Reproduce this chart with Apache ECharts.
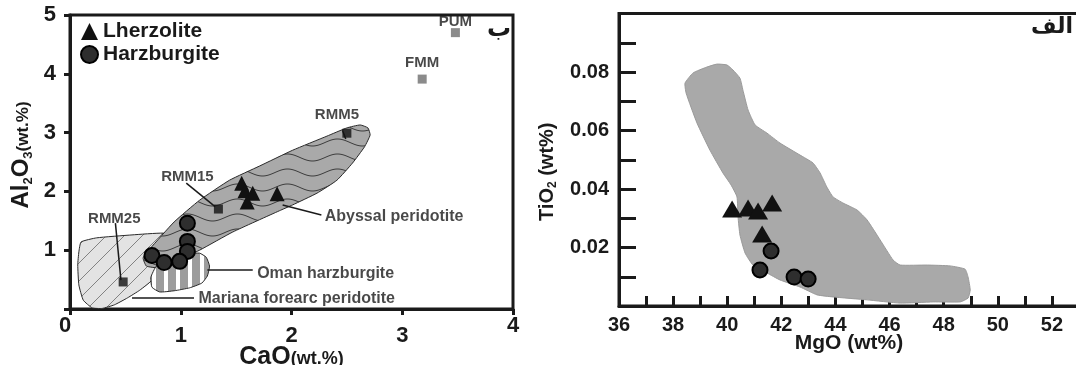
<!DOCTYPE html>
<html lang="en">
<head>
<meta charset="UTF-8">
<title>Peridotite diagrams</title>
<style>
 html, body { margin: 0; padding: 0; background: #fff; }
 #main { width: 1076px; height: 365px; }
</style>
</head>
<body>
<div id="main"></div>
<script src="https://cdn.jsdelivr.net/npm/echarts@6/dist/echarts.min.js"></script>
<script>
// ---------- left panel: CaO vs Al2O3 (wt.%) ----------
var caoTicks = [0, 1, 2, 3, 4];
var al2o3Ticks = [1, 2, 3, 4, 5];

var lherzCaAl = [[1.55, 2.14], [1.58, 2.01], [1.65, 1.97], [1.60, 1.82], [1.87, 1.96]];
var harzCaAl = [[1.06, 1.46], [1.06, 1.15], [1.06, 0.98], [0.74, 0.91], [0.85, 0.79], [0.99, 0.81]];

var refNames = ['PUM', 'FMM', 'RMM5', 'RMM15', 'RMM25'];
var refPoints = [[3.48, 4.70], [3.18, 3.91], [2.50, 2.99], [1.34, 1.70], [0.48, 0.46]];
var refColors = ['#6e6e6e', '#6e6e6e', '#111', '#111', '#111'];

var abyssalField = [[0.69, 0.73], [0.66, 0.87], [0.72, 1.02], [0.94, 1.48], [1.17, 1.85], [1.44, 2.19],
  [1.71, 2.43], [2.01, 2.70], [2.32, 2.94], [2.50, 3.08], [2.62, 3.13], [2.69, 3.08], [2.71, 2.96],
  [2.66, 2.76], [2.55, 2.48], [2.41, 2.19], [2.23, 1.97], [2.01, 1.77], [1.89, 1.67], [1.47, 1.31],
  [1.17, 1.00], [0.94, 0.80], [0.81, 0.70]];
var marianaField = [[0.10, 1.14], [0.24, 1.21], [0.56, 1.26], [0.84, 1.29], [0.94, 1.22], [0.99, 1.09],
  [0.81, 0.75], [0.74, 0.49], [0.63, 0.32], [0.52, 0.19], [0.40, 0.07], [0.29, 0.01], [0.20, 0.02],
  [0.12, 0.15], [0.08, 0.41], [0.07, 0.75], [0.08, 0.97]];
var omanField = [[0.78, 0.73], [0.90, 0.83], [1.08, 0.94], [1.17, 0.95], [1.23, 0.88], [1.26, 0.73],
  [1.24, 0.56], [1.19, 0.44], [1.08, 0.36], [0.94, 0.31], [0.81, 0.29], [0.74, 0.37], [0.73, 0.54]];

var annotText = ['PUM', 'FMM', 'RMM5', 'RMM15', 'RMM25', 'Abyssal peridotite', 'Oman harzburgite', 'Mariana forearc peridotite'];
var annotPos = [[3.48, 4.88], [3.18, 4.18], [2.41, 3.30], [1.06, 2.25], [0.40, 1.54], [2.30, 1.57], [1.69, 0.61], [1.16, 0.17]];
var annotAlign = ['center', 'center', 'center', 'center', 'center', 'left', 'left', 'left'];
var leaderLines = [
  [[2.46, 3.04], [2.49, 2.89]],
  [[1.05, 2.14], [1.31, 1.74]],
  [[0.41, 1.46], [0.46, 0.49]],
  [[1.92, 1.77], [2.27, 1.60]],
  [[1.24, 0.66], [1.65, 0.66]],
  [[0.56, 0.19], [1.12, 0.19]]
];

// ---------- right panel: MgO vs TiO2 (wt%) ----------
var mgoTicks = [36, 38, 40, 42, 44, 46, 48, 50, 52];
var tio2Ticks = [0.02, 0.04, 0.06, 0.08];

var lherzMgTi = [[40.18, 0.0332], [40.77, 0.0335], [41.14, 0.0325], [41.66, 0.0352], [41.29, 0.0246]];
var harzMgTi = [[41.62, 0.0188], [41.21, 0.0123], [42.47, 0.0099], [42.99, 0.0092]];

var mgTiField = [[38.44, 0.0762], [38.74, 0.0797], [39.25, 0.0817], [39.62, 0.0827], [39.99, 0.0824],
  [40.21, 0.0807], [40.47, 0.0779], [40.58, 0.0738], [40.77, 0.0670], [41.03, 0.0619], [41.47, 0.0591],
  [41.95, 0.0557], [42.69, 0.0516], [43.17, 0.0489], [43.43, 0.0455], [43.68, 0.0407], [43.91, 0.0373],
  [44.28, 0.0352], [44.80, 0.0328], [45.17, 0.0294], [45.65, 0.0226], [46.13, 0.0157], [46.39, 0.0140],
  [47.39, 0.0140], [48.24, 0.0137], [48.79, 0.0126], [48.90, 0.0099], [48.98, 0.0055], [48.90, 0.0027],
  [48.61, 0.0014], [47.61, 0.0014], [46.39, 0.0010], [45.17, 0.0021], [43.91, 0.0031], [43.32, 0.0038],
  [42.69, 0.0065], [41.95, 0.0089], [41.47, 0.0113], [40.95, 0.0140], [40.66, 0.0181], [40.47, 0.0243],
  [40.40, 0.0304], [40.36, 0.0373], [40.14, 0.0414], [39.84, 0.0455], [39.36, 0.0533], [38.88, 0.0626],
  [38.48, 0.0728]];

var FONT = 'Liberation Sans, Arial, sans-serif';
var INK = '#1a1a1a';

// fill patterns for the fields
function makePattern(w, h, draw) {
  var c = document.createElement('canvas');
  c.width = w; c.height = h;
  draw(c.getContext('2d'), w, h);
  return { image: c, repeat: 'repeat' };
}
var wavyFill = makePattern(50, 15, function (ctx, w, h) {
  ctx.fillStyle = '#a9a9a9'; ctx.fillRect(0, 0, w, h);
  ctx.strokeStyle = '#3c3c3c'; ctx.lineWidth = 1;
  ctx.beginPath();
  for (var i = 0; i <= w; i++) {
    var y = 7.5 + 3.5 * Math.sin(i / w * 2 * Math.PI);
    if (i === 0) ctx.moveTo(i, y); else ctx.lineTo(i, y);
  }
  ctx.stroke();
});
var hatchFill = makePattern(18, 18, function (ctx, w, h) {
  ctx.fillStyle = '#e3e3e3'; ctx.fillRect(0, 0, w, h);
  ctx.strokeStyle = '#6a6a6a'; ctx.lineWidth = 0.8;
  ctx.beginPath();
  ctx.moveTo(-1, h + 1); ctx.lineTo(w + 1, -1);
  ctx.moveTo(-1, 1); ctx.lineTo(1, -1);
  ctx.moveTo(w - 1, h + 1); ctx.lineTo(w + 1, h - 1);
  ctx.stroke();
});
var stripeFill = makePattern(12, 4, function (ctx, w, h) {
  ctx.fillStyle = '#ffffff'; ctx.fillRect(0, 0, w, h);
  ctx.fillStyle = '#9c9c9c'; ctx.fillRect(0, 0, 8, h);
});

function fieldSeries(pts, idx, fill, stroke, z) {
  return {
    type: 'custom', xAxisIndex: idx, yAxisIndex: idx, silent: true, z: z,
    data: pts,
    renderItem: function (params, api) {
      if (params.dataIndex !== 0) return null;
      return {
        type: 'polygon',
        shape: { points: pts.map(function (p) { return api.coord(p); }), smooth: 0.15 },
        style: { fill: fill, stroke: stroke, lineWidth: stroke ? 1 : 0 }
      };
    }
  };
}

var chart = echarts.init(document.getElementById('main'));

chart.setOption({
  animation: false,
  backgroundColor: '#fff',
  textStyle: { fontFamily: FONT },
  legend: {
    data: ['Lherzolite', 'Harzburgite'],
    orient: 'vertical', left: 75, top: 16,
    itemWidth: 17, itemHeight: 17, itemGap: 2,
    textStyle: { fontSize: 21, fontWeight: 'bold', color: INK, fontFamily: FONT }
  },
  graphic: [
    { type: 'text', left: 487, top: 18, style: { text: 'ب', fontSize: 24, fontWeight: 'bold', fill: INK, fontFamily: 'DejaVu Sans' } },
    { type: 'text', right: 3, top: 16, style: { text: 'الف', fontSize: 22, fontWeight: 'bold', fill: INK, fontFamily: 'DejaVu Sans' } }
  ],
  grid: [
    { left: 70, right: 563, top: 15, bottom: 56, show: true, borderWidth: 3, borderColor: INK, outerBoundsMode: 'none' },
    { left: 619, right: -3, top: 13.5, bottom: 59, show: true, borderWidth: 3, borderColor: INK, outerBoundsMode: 'none' }
  ],
  xAxis: [
    {
      gridIndex: 0, type: 'value', min: 0, max: 4, interval: 1,
      name: '{b|CaO}{m|(wt.%)}', nameLocation: 'middle', nameGap: 36, nameMoveOverlap: false,
      nameTextStyle: { rich: {
        b: { fontSize: 25, fontWeight: 'bold', color: INK, fontFamily: FONT, verticalAlign: 'bottom' },
        m: { fontSize: 18, fontWeight: 'bold', color: INK, fontFamily: FONT, verticalAlign: 'bottom', padding: [0, 0, 2, 0] }
      } },
      axisLine: { lineStyle: { color: INK, width: 3 } },
      axisTick: { inside: false, length: 6, lineStyle: { color: INK, width: 3 } },
      splitLine: { show: false },
      axisLabel: {
        margin: 6,
        formatter: function (v) {
          if (caoTicks.indexOf(v) < 0) return '';
          if (v === 0) return '{z|0}';
          if (v === 4) return '{e|4}';
          return '{m|' + v + '}';
        },
        rich: {
          z: { fontSize: 22, fontWeight: 'bold', color: INK, fontFamily: FONT, padding: [0, 10, 0, 0] },
          e: { fontSize: 22, fontWeight: 'bold', color: INK, fontFamily: FONT },
          m: { fontSize: 22, fontWeight: 'bold', color: INK, fontFamily: FONT, padding: [10, 0, 0, 0] }
        }
      }
    },
    {
      gridIndex: 1, type: 'value', min: 36, max: 53, interval: 1,
      name: 'MgO (wt%)', nameLocation: 'middle', nameGap: 27, nameMoveOverlap: false,
      nameTextStyle: { fontSize: 21, fontWeight: 'bold', color: INK, fontFamily: FONT },
      axisLine: { lineStyle: { color: INK, width: 3 } },
      axisTick: { inside: true, length: 10, lineStyle: { color: INK, width: 3 } },
      splitLine: { show: false },
      axisLabel: {
        margin: 9, fontSize: 20, fontWeight: 'bold', color: INK, fontFamily: FONT,
        showMaxLabel: false,
        formatter: function (v) { return mgoTicks.indexOf(v) >= 0 ? String(v) : ''; }
      }
    }
  ],
  yAxis: [
    {
      gridIndex: 0, type: 'value', min: 0, max: 5, interval: 1,
      name: '{b|Al}{s|2}{b|O}{s|3}{m|(wt.%)}', nameLocation: 'middle', nameGap: 35, nameMoveOverlap: false,
      nameTextStyle: { padding: [0, 0, 0, 14], rich: {
        b: { fontSize: 24, fontWeight: 'bold', color: INK, fontFamily: FONT, verticalAlign: 'top' },
        s: { fontSize: 13, fontWeight: 'bold', color: INK, fontFamily: FONT, verticalAlign: 'top', padding: [13, 0, 0, 0] },
        m: { fontSize: 17, fontWeight: 'bold', color: INK, fontFamily: FONT, verticalAlign: 'top', padding: [6, 0, 0, 0] }
      } },
      axisLine: { lineStyle: { color: INK, width: 3 } },
      axisTick: { inside: false, length: 6, lineStyle: { color: INK, width: 3 } },
      splitLine: { show: false },
      axisLabel: {
        margin: 14, fontSize: 22, fontWeight: 'bold', color: INK, fontFamily: FONT,
        formatter: function (v) { return al2o3Ticks.indexOf(v) >= 0 ? String(v) : ''; }
      }
    },
    {
      gridIndex: 1, type: 'value', min: 0, max: 0.1, interval: 0.01,
      name: '{b|TiO}{s|2}{b| (wt%)}', nameLocation: 'middle', nameGap: 60, nameMoveOverlap: false,
      nameTextStyle: { padding: [0, 24, 0, 0], rich: {
        b: { fontSize: 20, fontWeight: 'bold', color: INK, fontFamily: FONT, verticalAlign: 'top' },
        s: { fontSize: 12, fontWeight: 'bold', color: INK, fontFamily: FONT, verticalAlign: 'top', padding: [10, 0, 0, 0] }
      } },
      axisLine: { lineStyle: { color: INK, width: 3 } },
      axisTick: { inside: true, length: 17, lineStyle: { color: INK, width: 3 } },
      splitLine: { show: false },
      axisLabel: {
        margin: 10, fontSize: 20, fontWeight: 'bold', color: INK, fontFamily: FONT,
        formatter: function (v) {
          var r = Math.round(v * 100) / 100;
          return tio2Ticks.indexOf(r) >= 0 ? r.toFixed(2) : '';
        }
      }
    }
  ],
  series: [
    fieldSeries(marianaField, 0, hatchFill, '#2a2a2a', 1),
    fieldSeries(abyssalField, 0, wavyFill, '#2a2a2a', 2),
    fieldSeries(omanField, 0, stripeFill, '#2a2a2a', 3),
    {
      type: 'lines', coordinateSystem: 'cartesian2d', xAxisIndex: 0, yAxisIndex: 0, silent: true, z: 4,
      lineStyle: { color: INK, width: 1.5, opacity: 1 },
      data: leaderLines.map(function (l) { return { coords: l }; })
    },
    {
      type: 'scatter', xAxisIndex: 0, yAxisIndex: 0, silent: true, z: 5, symbolSize: 0,
      data: annotText.map(function (t, i) {
        return {
          value: annotPos[i], name: t,
          label: { align: annotAlign[i], fontSize: i < 5 ? 15 : 16 }
        };
      }),
      label: {
        show: true, position: 'inside', formatter: '{b}', verticalAlign: 'middle',
        fontWeight: 'bold', color: INK, fontFamily: FONT
      }
    },
    {
      type: 'scatter', xAxisIndex: 0, yAxisIndex: 0, silent: true, z: 6,
      symbol: 'rect', symbolSize: 9,
      data: refPoints.map(function (p, i) {
        return { value: p, name: refNames[i], itemStyle: { color: refColors[i] } };
      })
    },
    {
      name: 'Lherzolite', type: 'scatter', xAxisIndex: 0, yAxisIndex: 0, z: 7,
      symbol: 'triangle', symbolSize: 15,
      itemStyle: { color: '#111', opacity: 1 },
      data: lherzCaAl
    },
    {
      name: 'Harzburgite', type: 'scatter', xAxisIndex: 0, yAxisIndex: 0, z: 7,
      symbol: 'circle', symbolSize: 15,
      itemStyle: { color: '#2e2e2e', borderColor: '#000', borderWidth: 2, opacity: 1 },
      data: harzCaAl
    },
    fieldSeries(mgTiField, 1, '#a9a9a9', '#9a9a9a', 1),
    {
      name: 'Lherzolite', type: 'scatter', xAxisIndex: 1, yAxisIndex: 1, z: 7,
      symbol: 'triangle', symbolSize: [20, 17],
      itemStyle: { color: '#111', opacity: 1 },
      data: lherzMgTi
    },
    {
      name: 'Harzburgite', type: 'scatter', xAxisIndex: 1, yAxisIndex: 1, z: 7,
      symbol: 'circle', symbolSize: 15,
      itemStyle: { color: '#2e2e2e', borderColor: '#000', borderWidth: 2, opacity: 1 },
      data: harzMgTi
    }
  ]
});
</script>
</body>
</html>
